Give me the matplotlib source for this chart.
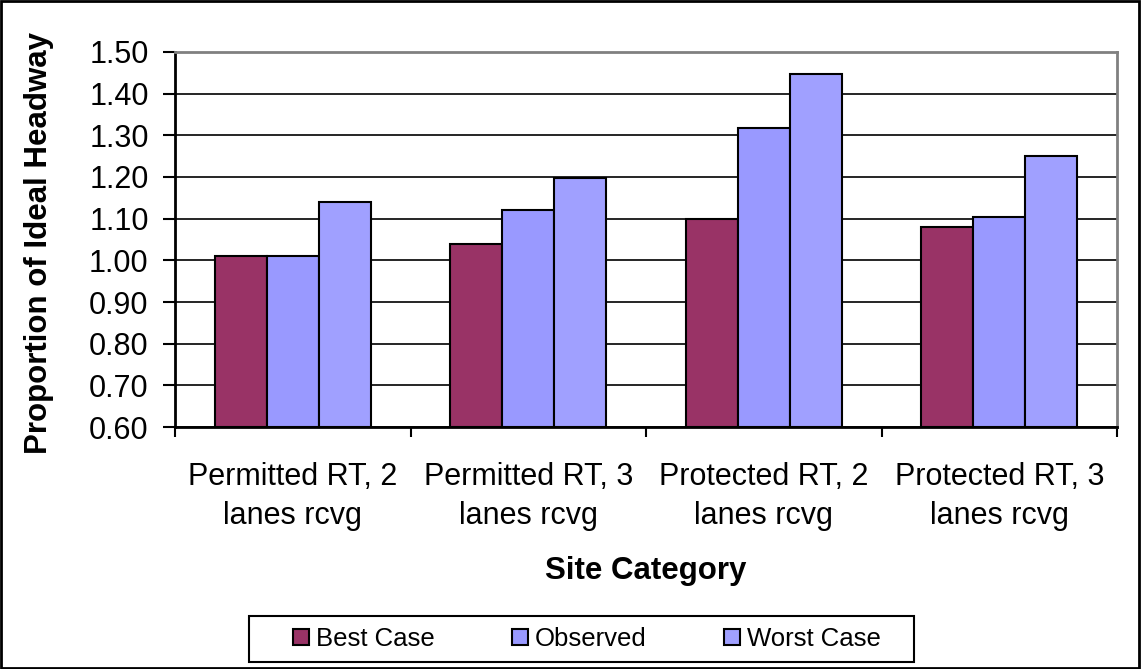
import numpy as np
import matplotlib.pyplot as plt
from matplotlib.patches import Rectangle

plt.rcParams['font.family'] = ['Liberation Sans', 'DejaVu Sans']

categories = ["Permitted RT, 2\nlanes rcvg", "Permitted RT, 3\nlanes rcvg",
              "Protected RT, 2\nlanes rcvg", "Protected RT, 3\nlanes rcvg"]
best_case = [1.01, 1.04, 1.10, 1.08]
observed = [1.01, 1.12, 1.317, 1.105]
worst_case = [1.14, 1.197, 1.446, 1.25]
series_names = ["Best Case", "Observed", "Worst Case"]
colors = ["#993366", "#9999FF", "#A0A0FF"]

fig = plt.figure(figsize=(11.41, 6.69), dpi=100)
ax = fig.add_axes([0.1534, 0.3617, 0.8256, 0.5606])

x = np.arange(len(categories))
w = 0.221
for i, (vals, name, c) in enumerate(zip([best_case, observed, worst_case], series_names, colors)):
    ax.bar(x + (i - 1) * w, [v - 0.6 for v in vals], width=w, bottom=0.6,
           color=c, edgecolor='black', linewidth=1.5, label=name, zorder=3)

ax.set_ylim(0.6, 1.5)
ax.set_xlim(-0.5, len(categories) - 0.5)
yt = np.arange(0.6, 1.51, 0.1)
ax.set_yticks(yt)
ax.set_yticklabels([f"{v:.2f}" for v in yt], fontsize=22)
ax.yaxis.grid(True, color='black', linewidth=1.2, zorder=0)
ax.tick_params(axis='y', direction='out', length=8.5, width=1.5, pad=10.5)

# category boundaries as major ticks, names on minor ticks
ax.set_xticks(np.arange(-0.5, len(categories), 1.0))
ax.set_xticklabels([])
ax.set_xticks(x, minor=True)
ax.set_xticklabels(categories, minor=True, fontsize=22, linespacing=1.42)
ax.tick_params(axis='x', which='major', direction='out', length=7.2, width=1.5)
ax.tick_params(axis='x', which='minor', length=0, pad=25)

for s in ['left', 'bottom']:
    ax.spines[s].set_linewidth(2)
    ax.spines[s].set_color('black')
for s in ['top', 'right']:
    ax.spines[s].set_linewidth(2)
    ax.spines[s].set_color('#808080')

ax.set_ylabel("Proportion of Ideal Headway", fontsize=22.5, fontweight='bold')
ax.yaxis.set_label_coords(-0.129, 0.49)
ax.set_xlabel("Site Category", fontsize=22.5, fontweight='bold')
ax.xaxis.set_label_coords(0.5, -0.345)

leg = fig.legend(loc='center', bbox_to_anchor=(0.5145, 0.0448), ncol=3, fontsize=18.5,
                 frameon=False, handlelength=0.62, handleheight=0.62,
                 handletextpad=0.28, columnspacing=3.0, borderpad=0, borderaxespad=0)
for h in leg.legend_handles:
    h.set_linewidth(1.5)

# legend frame and outer chart border
fig.patches.append(Rectangle((0.2182, 0.0105), 0.5828, 0.0688, transform=fig.transFigure,
                             fill=False, edgecolor='black', linewidth=1.5))
fig.patches.append(Rectangle((0.001, 0.001), 0.997, 0.997, transform=fig.transFigure,
                             fill=False, edgecolor='black', linewidth=2))

fig.savefig("out.png", dpi=100)
